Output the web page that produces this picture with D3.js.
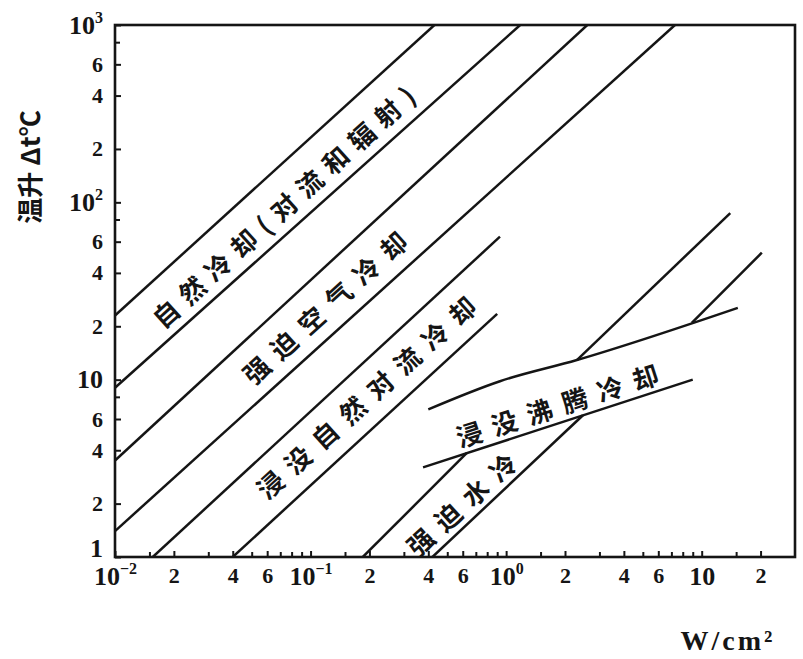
<!DOCTYPE html>
<html><head><meta charset="utf-8">
<script src="https://cdn.jsdelivr.net/npm/d3@7"></script>
<style>
html,body{margin:0;padding:0;background:#fff;}
svg{display:block;}
</style></head><body>
<svg id="chart" width="803" height="659"></svg>
<script>
// ---------------- data ----------------
const xDomain = [0.01, 30];      // heat flux, W/cm²
const yDomain = [1, 1000];       // temperature rise Δt, °C

const xLabeledTicks = [0.01, 0.02, 0.04, 0.06, 0.1, 0.2, 0.4, 0.6, 1, 2, 4, 6, 10, 20];
const xMinorTicks = [0.015, 0.03, 0.05, 0.07, 0.08, 0.09, 0.15, 0.3, 0.5, 0.7, 0.8, 0.9, 1.5, 3, 5, 7, 8, 9, 15];
const yLabeledTicks = [1, 2, 4, 6, 10, 20, 40, 60, 100, 200, 400, 600, 1000];
const yMinorTicks = [8, 80, 800];

// boundary lines, each an array of [W/cm², Δt] points
const naturalUpper   = [[0.01, 23], [0.43, 1000]];
const naturalLower   = [[0.01, 9], [1.18, 1000]];
const forcedAirUpper = [[0.01, 3.5], [2.6, 1000]];
const forcedAirLower = [[0.01, 1.4], [7.3, 1000]];
const immNatUpper    = [[0.0156, 1], [0.93, 64]];
const immNatLower    = [[0.04, 1], [0.9, 23.5]];
const waterUpperA    = [[0.185, 1], [0.63, 3.86]];
const waterUpperB    = [[2.3, 12.9], [14, 87]];
const waterLowerA    = [[0.42, 1], [2.47, 6.3]];
const waterLowerB    = [[8.9, 20.9], [20.3, 52]];
const boilingUpper   = [[0.4, 6.8], [0.93, 9.8], [2.3, 12.9], [15.3, 25.4]];
const boilingLower   = [[0.376, 3.2], [9, 10]];

const allLines = [naturalUpper, naturalLower, forcedAirUpper, forcedAirLower,
  immNatUpper, immNatLower, waterUpperA, waterUpperB, waterLowerA, waterLowerB,
  boilingUpper, boilingLower];

// region names, anchor point [W/cm², Δt] and log-log slope of the band
const regionNames  = ["自然冷却(对流和辐射)", "强迫空气冷却", "浸没自然对流冷却", "浸没沸腾冷却", "强迫水冷"];
const regionAnchor = [[0.075, 99], [0.123, 27], [0.2, 8.4], [1.93, 7.4], [0.615, 2.1]];
const regionSlope  = [1, 1, 1, 0.357, 1];

const xTitle = "W/cm²";
const yTitle = "温升 Δt℃";

// ---------------- drawing ----------------
const svg = d3.select("#chart");
const L = 115, R = 795, T = 25, B = 557;
const ink = "#151515";

const x = d3.scaleLog().domain(xDomain).range([L, R]);
const y = d3.scaleLog().domain(yDomain).range([B, T]);

svg.append("rect").attr("width", 803).attr("height", 659).attr("fill", "#fff");

svg.append("defs").append("clipPath").attr("id", "plotclip")
  .append("rect").attr("x", L).attr("y", T).attr("width", R - L).attr("height", B - T);

const line = d3.line().x(d => x(d[0])).y(d => y(d[1])).curve(d3.curveMonotoneX);
svg.append("g").attr("clip-path", "url(#plotclip)")
  .selectAll("path").data(allLines).join("path")
  .attr("d", line)
  .attr("fill", "none").attr("stroke", ink).attr("stroke-width", 2.5)
  .attr("stroke-linejoin", "round");

// region labels
const ls = [9, 11, 11, 11, 11];
svg.append("g").selectAll("text").data(regionNames).join("text")
  .attr("transform", (d, i) => {
    const [ax, ay] = regionAnchor[i];
    const s = regionSlope[i];
    const ang = Math.atan2(y(Math.pow(10, s)) - y(1), x(10) - x(1)) * 180 / Math.PI;
    return `translate(${x(ax)},${y(ay)}) rotate(${ang})`;
  })
  .attr("text-anchor", "middle")
  .attr("dominant-baseline", "central")
  .attr("font-family", "'Noto Sans CJK SC', sans-serif")
  .attr("font-size", 26)
  .attr("font-weight", "bold")
  .attr("letter-spacing", (d, i) => ls[i] + "px")
  .attr("fill", ink)
  .text(d => d);

// axes
const isPow = v => Math.abs(Math.log10(v) - Math.round(Math.log10(v))) < 1e-9;
function fmtX(v) {
  if (isPow(v)) { const e = Math.round(Math.log10(v)); return e === 1 ? "10" : "10^" + e; }
  return String(Math.round(v / Math.pow(10, Math.floor(Math.log10(v) + 1e-9))));
}
function fmtY(v) {
  if (isPow(v)) { const e = Math.round(Math.log10(v)); return e === 0 ? "1" : e === 1 ? "10" : "10^" + e; }
  return String(Math.round(v / Math.pow(10, Math.floor(Math.log10(v) + 1e-9))));
}
function styleTicks(g) {
  g.select(".domain").remove();
  g.selectAll(".tick line").attr("stroke", ink).attr("stroke-width", 2);
  g.selectAll(".tick text").each(function () {
    const t = d3.select(this);
    const s = t.text();
    t.attr("fill", ink).attr("font-family", "'Liberation Serif', serif").attr("font-weight", "bold");
    if (s.includes("^")) {
      const [b, e] = s.split("^");
      t.text(null).attr("font-size", 26);
      t.append("tspan").text(b);
      t.append("tspan").attr("font-size", 16).attr("dy", "-0.7em").text(e.replace("-", "−"));
    } else if (s === "10" || s === "1") {
      t.attr("font-size", 26);
    } else {
      t.attr("font-size", 22);
    }
  });
}

svg.append("g").attr("transform", `translate(0,${B})`)
  .call(d3.axisBottom(x).tickValues(xMinorTicks).tickSizeInner(-5).tickSizeOuter(0).tickFormat(""))
  .call(styleTicks);
svg.append("g").attr("transform", `translate(0,${B})`)
  .call(d3.axisBottom(x).tickValues(xLabeledTicks).tickSizeInner(-6).tickSizeOuter(0).tickPadding(10).tickFormat(fmtX))
  .call(styleTicks);

svg.append("g").attr("transform", `translate(${L},0)`)
  .call(d3.axisLeft(y).tickValues(yMinorTicks).tickSizeInner(-5).tickSizeOuter(0).tickFormat(""))
  .call(styleTicks);
const gy = svg.append("g").attr("transform", `translate(${L},0)`)
  .call(d3.axisLeft(y).tickValues(yLabeledTicks).tickSizeInner(-6).tickSizeOuter(0).tickPadding(12).tickFormat(fmtY))
  .call(styleTicks);
gy.selectAll(".tick text").filter(d => d === 1).attr("y", -9);

// frame
svg.append("rect").attr("x", L).attr("y", T).attr("width", R - L).attr("height", B - T)
  .attr("fill", "none").attr("stroke", ink).attr("stroke-width", 2.6);

// axis titles
svg.append("text").attr("x", 728).attr("y", 650).attr("text-anchor", "middle")
  .attr("font-family", "'Liberation Serif', serif").attr("font-weight", "bold")
  .attr("font-size", 28).attr("letter-spacing", "3px").attr("fill", ink).text(xTitle);

svg.append("text").attr("transform", "translate(28,167) rotate(-90)")
  .attr("text-anchor", "middle").attr("dominant-baseline", "central")
  .attr("font-family", "'Noto Sans CJK SC', sans-serif").attr("font-weight", "bold")
  .attr("font-size", 26).attr("fill", ink).text(yTitle);
</script>
</body></html>
